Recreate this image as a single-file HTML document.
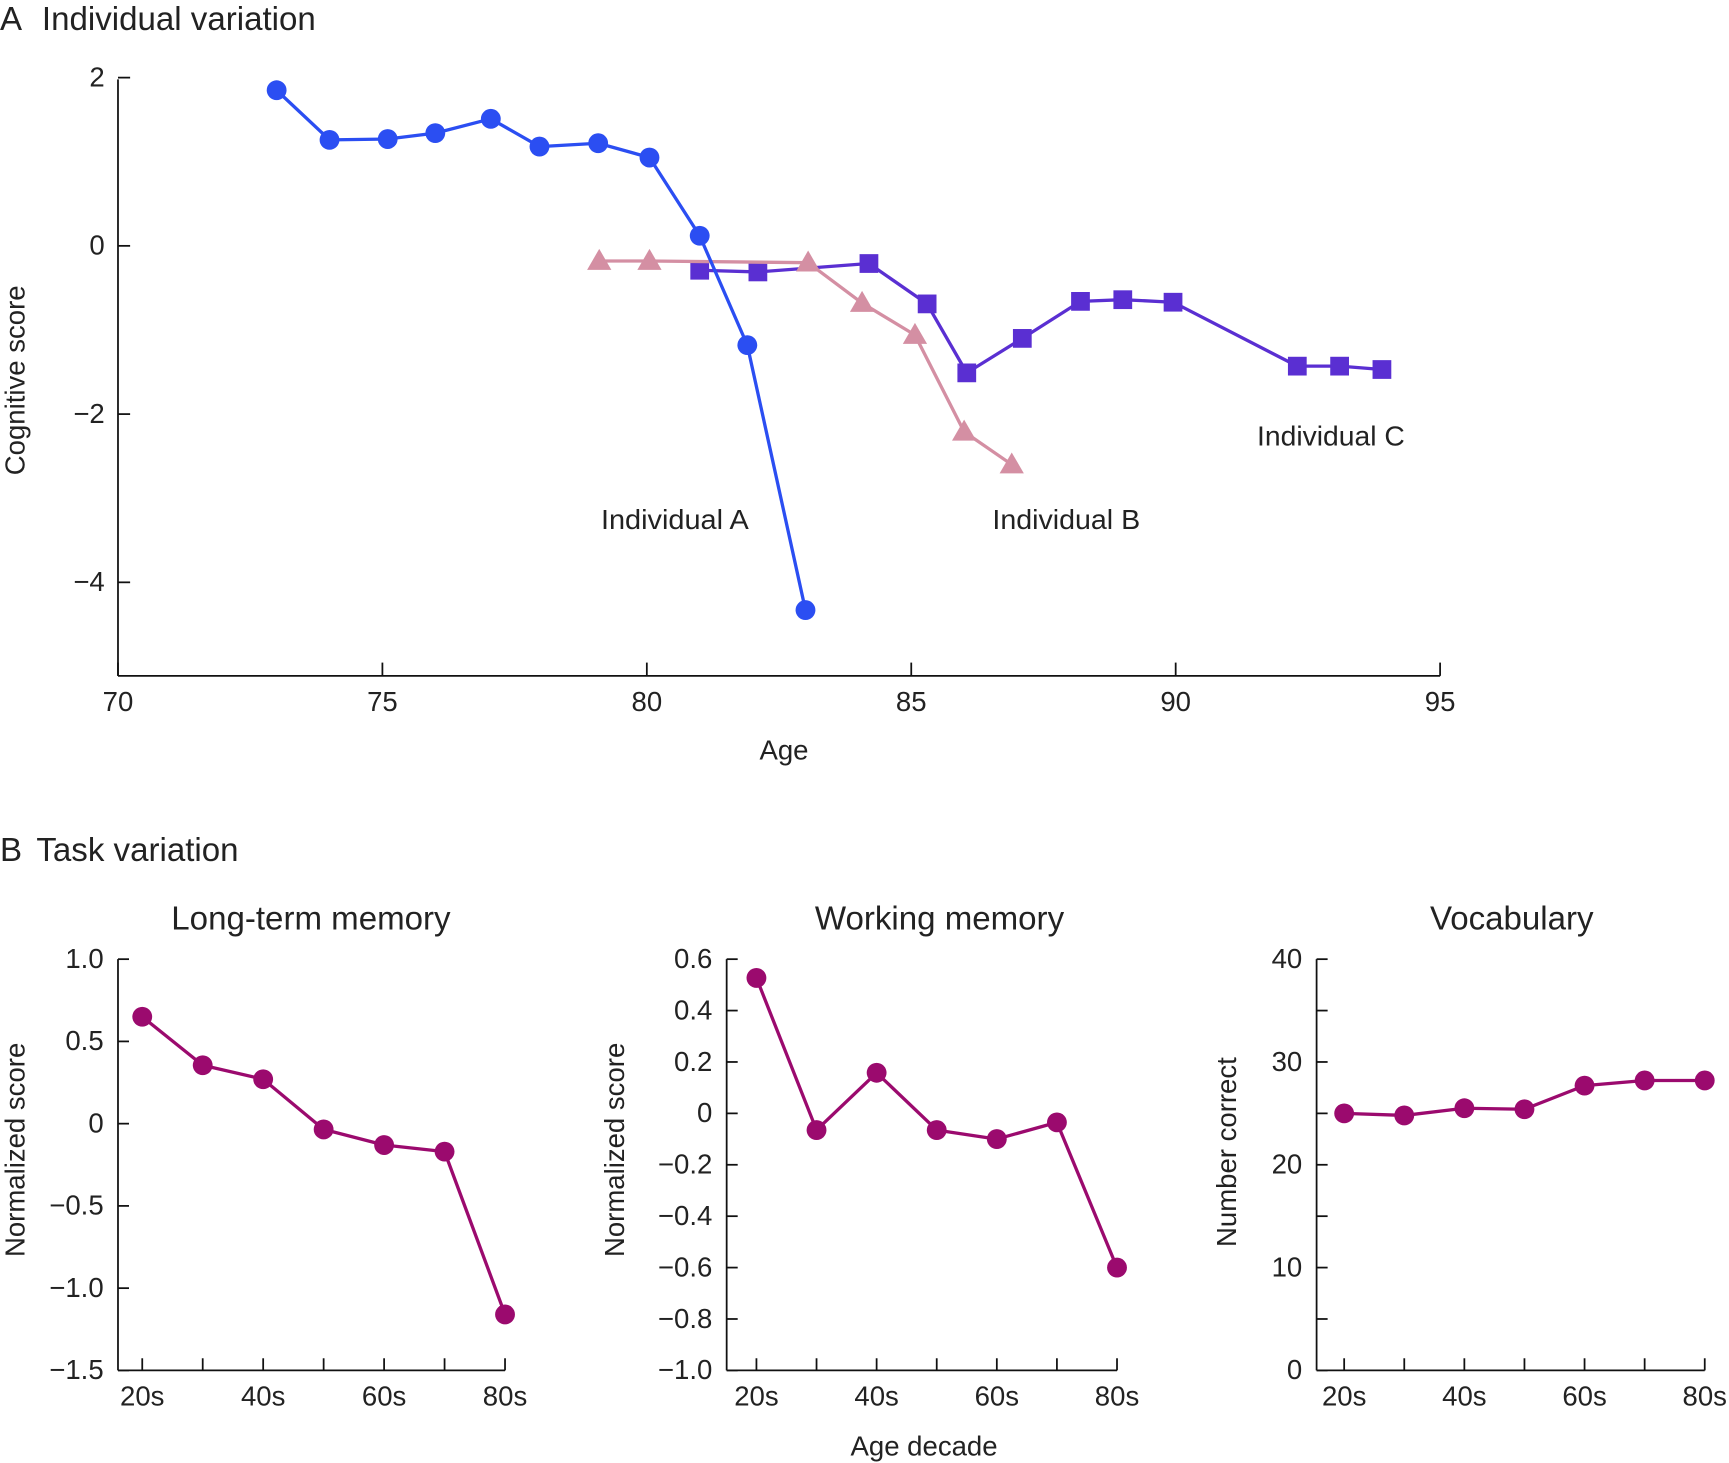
<!DOCTYPE html>
<html><head><meta charset="utf-8"><style>
html,body{margin:0;padding:0;background:#fff;}
svg{display:block;font-family:"Liberation Sans",sans-serif;}
text{fill:#222;}
</style></head><body>
<svg id="chart" width="1729" height="1463" viewBox="0 0 1568 1327" preserveAspectRatio="none" xmlns="http://www.w3.org/2000/svg">
<g id="root"></g>
</svg>
<script>
// Panel A data
const agesA = [73.0,74.0,75.1,76.0,77.05,77.97,79.08,80.05,81.0,81.9,83.0];
const scoresA = [1.85,1.26,1.27,1.34,1.51,1.18,1.22,1.05,0.12,-1.18,-4.33];
const agesB = [79.1,80.05,83.05,84.07,85.07,86.0,86.9];
const scoresB = [-0.18,-0.18,-0.2,-0.68,-1.06,-2.21,-2.6];
const agesC = [81.0,82.1,84.2,85.3,86.05,87.1,88.2,89.0,89.95,92.3,93.1,93.9];
const scoresC = [-0.29,-0.31,-0.21,-0.69,-1.51,-1.10,-0.66,-0.64,-0.67,-1.43,-1.43,-1.47];
const xTicksA = [70,75,80,85,90,95];
const yTicksA = [2,0,-2,-4];
// Panel B data
const decades = ["20s","30s","40s","50s","60s","70s","80s"];
const ltmValues = [0.65,0.355,0.27,-0.035,-0.13,-0.17,-1.16];
const wmValues = [0.527,-0.065,0.158,-0.065,-0.10,-0.035,-0.60];
const vocabValues = [25.0,24.8,25.5,25.4,27.7,28.2,28.2];
const ltmTicks = [1.0,0.5,0,-0.5,-1.0,-1.5];
const ltmTickLabels = ["1.0","0.5","0","\u22120.5","\u22121.0","\u22121.5"];
const wmTicks = [0.6,0.4,0.2,0,-0.2,-0.4,-0.6,-0.8,-1.0];
const wmTickLabels = ["0.6","0.4","0.2","0","\u22120.2","\u22120.4","\u22120.6","\u22120.8","\u22121.0"];
const vocabTicks = [40,35,30,25,20,15,10,5,0];
const vocabTickLabels = ["40","","30","","20","","10","","0"];

const NS="http://www.w3.org/2000/svg";
const root=document.getElementById('root');
function mk(tag,attrs,parent,txt){const e=document.createElementNS(NS,tag);for(const k in attrs)e.setAttribute(k,attrs[k]);if(txt!==undefined)e.textContent=txt;(parent||root).appendChild(e);return e;}

const FS=25, TFS=30;
// ---------- Panel A ----------
const ax=a=>107+(a-70)*(1306-107)/25;
const ay=v=>223-v*76.3;
let t=mk('text',{x:0,y:27,'font-size':TFS},root,'A');

t=mk('text',{x:38,y:27,'font-size':TFS},root,'Individual variation');

let g=mk('g',{});
mk('line',{x1:107,y1:72,x2:107,y2:613,stroke:'#111','stroke-width':1.6},g);
mk('line',{x1:107,y1:613,x2:1306,y2:613,stroke:'#111','stroke-width':1.6},g);
xTicksA.forEach(v=>{
  const l=mk('line',{x1:ax(v),y1:613,x2:ax(v),y2:601,stroke:'#111','stroke-width':1.6},g);
  
  const tx=mk('text',{x:ax(v),y:645,'font-size':FS,'text-anchor':'middle'},g,String(v));
  
});
yTicksA.forEach(v=>{
  const l=mk('line',{x1:107,y1:ay(v),x2:118,y2:ay(v),stroke:'#111','stroke-width':1.6},g);
  
  const tx=mk('text',{x:95,y:ay(v)+8,'font-size':FS,'text-anchor':'end'},g,v<0?'\u2212'+Math.abs(v):String(v));
  
});
t=mk('text',{x:711,y:689,'font-size':FS,'text-anchor':'middle'},root,'Age');

t=mk('text',{x:0,y:0,'font-size':FS,'text-anchor':'middle',transform:'translate(22,345) rotate(-90)'},root,'Cognitive score');


function series(xs,ys,fx,fy,color,shape,name){
  const sg=mk('g',{});
  
  
  const pts=xs.map((x,i)=>fx(x,i)+','+fy(ys[i])).join(' ');
  mk('polyline',{points:pts,fill:'none',stroke:color,'stroke-width':3,'stroke-linejoin':'round'},sg);
  xs.forEach((x,i)=>{
    const px=fx(x,i),py=fy(ys[i]);let m;
    if(shape==='circle')m=mk('circle',{cx:px,cy:py,r:9,fill:color},sg);
    else if(shape==='square')m=mk('rect',{x:px-8.5,y:py-8.5,width:17,height:17,fill:color},sg);
    else m=mk('polygon',{points:`${px},${py-11} ${px-11},${py+8} ${px+11},${py+8}`,fill:color},sg);
    
    
  });
}
series(agesC,scoresC,ax,ay,'#5a2fd2','square','series-individual-c');
series(agesB,scoresB,ax,ay,'#d48fa3','triangle','series-individual-b');
series(agesA,scoresA,ax,ay,'#2b4ef2','circle','series-individual-a');
[['Individual A',545,480,'label-individual-a'],['Individual B',900,480,'label-individual-b'],['Individual C',1140,404,'label-individual-c']].forEach(d=>{
  const e=mk('text',{x:d[1],y:d[2],'font-size':FS,textLength:134,lengthAdjust:'spacingAndGlyphs'},root,d[0]);
  
});

// ---------- Panel B ----------
t=mk('text',{x:0,y:781,'font-size':TFS},root,'B');

t=mk('text',{x:33,y:781,'font-size':TFS},root,'Task variation');

t=mk('text',{x:838,y:1320,'font-size':FS,'text-anchor':'middle'},root,'Age decade');


function subplot(o){
  const sg=mk('g',{});
  
  
  const top=870,bot=1243;
  const fy=v=>bot-(v-o.min)/(o.max-o.min)*(bot-top);
  const fx=(d,i)=>o.x0+i*(o.x1-o.x0)/6;
  mk('line',{x1:o.ax,y1:top,x2:o.ax,y2:bot,stroke:'#111','stroke-width':1.6},sg);
  mk('line',{x1:o.ax,y1:bot,x2:o.x1,y2:bot,stroke:'#111','stroke-width':1.6},sg);
  o.ticks.forEach((v,i)=>{
    const l=mk('line',{x1:o.ax,y1:fy(v),x2:o.ax+10,y2:fy(v),stroke:'#111','stroke-width':1.6},sg);
    
    if(o.labels[i]){const tx=mk('text',{x:o.ax-13,y:fy(v)+8,'font-size':FS,'text-anchor':'end'},sg,o.labels[i]);
    }
  });
  decades.forEach((d,i)=>{
    const l=mk('line',{x1:fx(d,i),y1:bot,x2:fx(d,i),y2:bot-11,stroke:'#111','stroke-width':1.6},sg);
    
    if(i%2===0){const tx=mk('text',{x:fx(d,i),y:1275,'font-size':FS,'text-anchor':'middle'},sg,d);
    }
  });
  let e=mk('text',{x:o.tc,y:843,'font-size':TFS,'text-anchor':'middle'},sg,o.title);
  
  e=mk('text',{x:0,y:0,'font-size':FS,'text-anchor':'middle',transform:`translate(${o.yl},${o.ylc}) rotate(-90)`},sg,o.ytitle);
  
  series(decades,o.vals,fx,fy,'#9b0a6e','circle',o.name+'-series');
}
subplot({name:'long-term-memory-chart',ax:107,x0:129,x1:458,min:-1.5,max:1.0,ticks:ltmTicks,labels:ltmTickLabels,vals:ltmValues,title:'Long-term memory',tc:282,ytitle:'Normalized score',yl:22,ylc:1043});
subplot({name:'working-memory-chart',ax:659,x0:686,x1:1013,min:-1.0,max:0.6,ticks:wmTicks,labels:wmTickLabels,vals:wmValues,title:'Working memory',tc:852,ytitle:'Normalized score',yl:566,ylc:1043});
subplot({name:'vocabulary-chart',ax:1194,x0:1219,x1:1546,min:0,max:40,ticks:vocabTicks,labels:vocabTickLabels,vals:vocabValues,title:'Vocabulary',tc:1371,ytitle:'Number correct',yl:1121,ylc:1045});
</script>
</body></html>
